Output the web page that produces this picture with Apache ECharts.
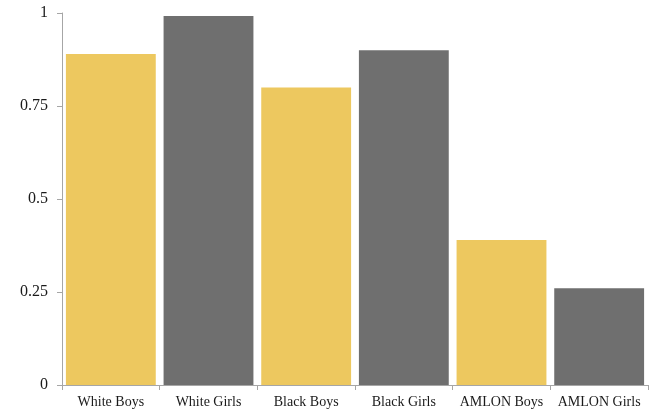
<!DOCTYPE html>
<html>
<head>
<meta charset="utf-8">
<script src="https://cdn.jsdelivr.net/npm/echarts@6/dist/echarts.min.js"></script>
<style>html,body{margin:0;padding:0;background:#fff;}#c{width:653px;height:415px;}</style>
</head>
<body>
<div id="c"></div>
<script>
const categories = ['White Boys', 'White Girls', 'Black Boys', 'Black Girls', 'AMLON Boys', 'AMLON Girls'];
const values = [0.89, 0.992, 0.80, 0.90, 0.39, 0.26];
const barColors = ['#EDC85F', '#6F6F6F', '#EDC85F', '#6F6F6F', '#EDC85F', '#6F6F6F'];
const yTicks = [0, 0.25, 0.5, 0.75, 1];

const chart = echarts.init(document.getElementById('c'));
const font = '"Liberation Serif", "DejaVu Serif", serif';
chart.setOption({
  animation: false,
  grid: { left: 62, right: 5, top: 13, bottom: 30, containLabel: false },
  xAxis: {
    type: 'category',
    data: categories,
    axisLine: { lineStyle: { color: '#A6A6A6', width: 1 } },
    axisTick: { show: true, length: 5, lineStyle: { color: '#A6A6A6' } },
    axisLabel: { color: '#1a1a1a', fontFamily: font, fontSize: 14, margin: 10, interval: 0 }
  },
  yAxis: {
    type: 'value',
    min: 0, max: 1, interval: 0.25,
    axisLine: { show: true, lineStyle: { color: '#A6A6A6', width: 1 } },
    axisTick: { show: true, length: 5, lineStyle: { color: '#A6A6A6' } },
    splitLine: { show: false },
    axisLabel: {
      color: '#1a1a1a', fontFamily: font, fontSize: 16, margin: 14,
      formatter: v => yTicks.includes(v) ? String(v) : ''
    }
  },
  series: [{
    type: 'bar',
    barCategoryGap: '8%',
    data: values.map((v, i) => ({ value: v, itemStyle: { color: barColors[i] } }))
  }]
});
</script>
</body>
</html>
